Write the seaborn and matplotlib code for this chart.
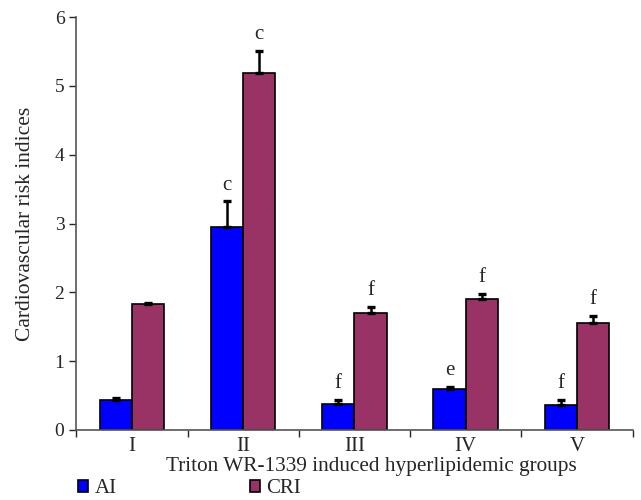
import pandas as pd
import seaborn as sns
import matplotlib.pyplot as plt
from matplotlib.ticker import FixedLocator

# values
groups = ['I', 'II', 'III', 'IV', 'V']
ai = [0.43, 2.95, 0.38, 0.59, 0.37]
ai_err = [0.03, 0.37, 0.05, 0.04, 0.06]
cri = [1.83, 5.18, 1.70, 1.91, 1.56]
cri_err = [0.02, 0.33, 0.09, 0.07, 0.10]
ai_letters = ['', 'c', 'f', 'e', 'f']
cri_letters = ['', 'c', 'f', 'f', 'f']


def create_risk_chart():
    df = pd.DataFrame({
        'group': groups * 2,
        'value': ai + cri,
        'index': ['AI'] * len(groups) + ['CRI'] * len(groups),
    })

    sns.set_theme(style="ticks")
    plt.rcParams['font.family'] = ['Liberation Serif', 'DejaVu Serif']

    fig = plt.figure(figsize=(6.41, 5.0), dpi=100)
    ax = fig.add_axes([0.119, 0.14, 0.868, 0.826])

    sns.barplot(
        data=df, x='group', y='value', hue='index',
        palette={'AI': '#0000FF', 'CRI': '#993366'},
        width=0.58, edgecolor='black', linewidth=1.2,
        saturation=1, legend=True, ax=ax,
    )

    # one-sided error bars and significance letters on top of each bar
    for container, errs, letters in zip(ax.containers, [ai_err, cri_err],
                                        [ai_letters, cri_letters]):
        for bar, err, letter in zip(container.patches, errs, letters):
            xc = bar.get_x() + bar.get_width() / 2
            h = bar.get_height()
            ax.errorbar(xc, h, yerr=[[0], [err]], fmt='none', ecolor='black',
                        elinewidth=1.8, capsize=3, capthick=2.4)
            if letter:
                ax.annotate(letter, (xc, h + err), xytext=(0, 5),
                            textcoords='offset points', ha='center',
                            va='bottom', fontsize=15)

    ax.set_ylim(0, 6)
    ax.set_xlim(-0.5, len(groups) - 0.5)
    ax.set_yticks(range(7))
    ax.tick_params(axis='y', labelsize=14, length=5, width=1, direction='out')
    ax.tick_params(axis='x', which='major', length=0, labelsize=15, pad=5)
    ax.xaxis.set_minor_locator(FixedLocator([i + 0.5 for i in range(-1, len(groups))]))
    ax.tick_params(axis='x', which='minor', length=5, width=1, direction='out')

    sns.despine(ax=ax)
    for side in ['left', 'bottom']:
        ax.spines[side].set_color('#555555')
        ax.spines[side].set_linewidth(1.2)

    ax.set_xlabel('Triton WR-1339 induced hyperlipidemic groups', fontsize=15.3)
    ax.xaxis.set_label_coords(0.53, -0.066)
    ax.set_ylabel('Cardiovascular risk indices', fontsize=15.5, labelpad=14)

    handles, labels = ax.get_legend_handles_labels()
    ax.legend_.remove()
    fig.legend(handles, labels, loc='lower left', bbox_to_anchor=(0.092, -0.034),
               ncol=2, frameon=False, fontsize=15, handlelength=0.5,
               handleheight=0.5, handletextpad=0.3, columnspacing=6.4)

    plt.savefig("out.png", dpi=100)


if __name__ == "__main__":
    create_risk_chart()
